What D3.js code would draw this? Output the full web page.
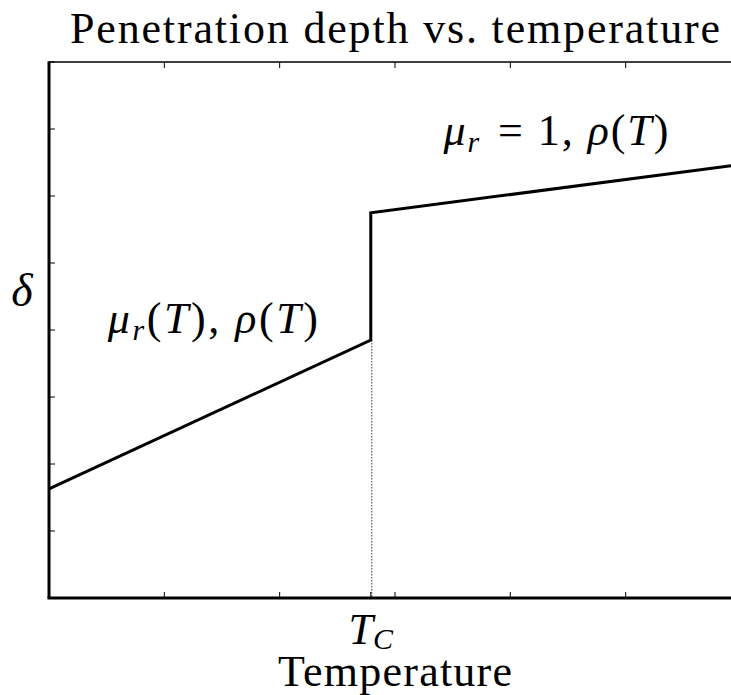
<!DOCTYPE html>
<html>
<head>
<meta charset="utf-8">
<script src="https://cdn.jsdelivr.net/npm/d3@7"></script>
<style>
  html, body { margin: 0; padding: 0; background: #fff; }
  svg { display: block; }
  text { font-family: "Liberation Serif", "DejaVu Serif", serif; fill: #000; }
</style>
</head>
<body>
<svg id="chart"></svg>
<script>
// 曲线数据（温度, 穿透深度）
const curveT = [0, 2.79, 2.79, 6];
const curveDelta = [1.63, 3.85, 5.75, 6.47];
const curieT = 2.79;
const xTicks = [0, 1, 2, 3, 4, 5, 6];
const yTicks = [0, 1, 2, 3, 4, 5, 6, 7, 8];

const width = 731;
const height = 695;
const margin = { left: 49, right: 741, top: 62, bottom: 598 };

const svg = d3.select('#chart')
  .attr('width', width)
  .attr('height', height);

const x = d3.scaleLinear().domain([0, 6]).range([margin.left, margin.right]);
const y = d3.scaleLinear().domain([0, 8]).range([margin.bottom, margin.top]);

// 刻度线（向内）
const tickLen = 6;
const g = svg.append('g');

g.selectAll('line.xb')
  .data(xTicks.concat([curieT]))
  .enter().append('line')
  .attr('x1', d => x(d)).attr('x2', d => x(d))
  .attr('y1', y(0)).attr('y2', y(0) - tickLen)
  .attr('stroke', '#000').attr('stroke-width', 1);

g.selectAll('line.xt')
  .data(xTicks)
  .enter().append('line')
  .attr('x1', d => x(d)).attr('x2', d => x(d))
  .attr('y1', y(8)).attr('y2', y(8) + tickLen)
  .attr('stroke', '#000').attr('stroke-width', 1);

g.selectAll('line.yl')
  .data(yTicks)
  .enter().append('line')
  .attr('x1', x(0)).attr('x2', x(0) + tickLen)
  .attr('y1', d => y(d)).attr('y2', d => y(d))
  .attr('stroke', '#000').attr('stroke-width', 1);

// 虚线（居里温度）
g.append('line')
  .attr('x1', x(curieT) + 1).attr('x2', x(curieT) + 1)
  .attr('y1', y(curveDelta[1])).attr('y2', y(0))
  .attr('stroke', '#000').attr('stroke-width', 0.8)
  .attr('stroke-dasharray', '1.5,1.5');

// 曲线
const line = d3.line()
  .x((d, i) => x(curveT[i]))
  .y(d => y(d));

g.append('path')
  .datum(curveDelta)
  .attr('d', line)
  .attr('fill', 'none')
  .attr('stroke', '#000')
  .attr('stroke-width', 3)
  .attr('stroke-linejoin', 'miter');

// 坐标轴边框
g.append('line')
  .attr('x1', x(0)).attr('x2', x(6))
  .attr('y1', y(8)).attr('y2', y(8))
  .attr('stroke', '#000').attr('stroke-width', 1.5);
g.append('line')
  .attr('x1', x(0) - 1.5).attr('x2', x(6))
  .attr('y1', y(0)).attr('y2', y(0))
  .attr('stroke', '#000').attr('stroke-width', 3);
g.append('line')
  .attr('x1', x(0)).attr('x2', x(0))
  .attr('y1', y(8) - 0.75).attr('y2', y(0))
  .attr('stroke', '#000').attr('stroke-width', 3);

// 文字
const cx = (margin.left + margin.right) / 2;
const fs = 44;

svg.append('text')
  .attr('x', cx).attr('y', 43)
  .attr('text-anchor', 'middle')
  .attr('textLength', 650)
  .attr('lengthAdjust', 'spacing')
  .style('font-size', fs + 'px')
  .text('Penetration depth vs. temperature');

svg.append('text')
  .attr('x', cx).attr('y', 686)
  .attr('text-anchor', 'middle')
  .attr('textLength', 234)
  .attr('lengthAdjust', 'spacing')
  .style('font-size', fs + 'px')
  .text('Temperature');

// T_C 刻度标签
const tc = svg.append('text')
  .attr('x', x(curieT)).attr('y', 644)
  .attr('text-anchor', 'middle')
  .style('font-size', fs + 'px');
tc.append('tspan').style('font-style', 'italic').text('T');
tc.append('tspan').style('font-style', 'italic').style('font-size', '30px').attr('dy', 5).text('C');

// δ
svg.append('text')
  .attr('x', 22).attr('y', 306)
  .attr('text-anchor', 'middle')
  .style('font-size', '46px')
  .style('font-style', 'italic')
  .text('δ');

// 注释
function mathText(px, py, len, parts) {
  const t = svg.append('text')
    .attr('x', px).attr('y', py)
    .attr('textLength', len)
    .attr('lengthAdjust', 'spacing')
    .style('font-size', fs + 'px');
  parts.forEach(p => {
    const s = t.append('tspan').text(p.s);
    if (p.i) s.style('font-style', 'italic');
    if (p.sub) s.style('font-size', '30px').attr('dy', 7);
    if (p.up) s.attr('dy', -7);
    if (p.dx) s.attr('dx', p.dx);
  });
  return t;
}

mathText(x(0.51), y(3.96), 210, [
  { s: 'μ', i: true },
  { s: 'r', i: true, sub: true },
  { s: '(', up: true },
  { s: 'T', i: true },
  { s: '), ' },
  { s: 'ρ', i: true },
  { s: '(' },
  { s: 'T', i: true },
  { s: ')' }
]);

mathText(x(3.42), y(6.76), 225, [
  { s: 'μ', i: true },
  { s: 'r', i: true, sub: true },
  { s: ' = ', up: true, dx: 4 },
  { s: '1, ' },
  { s: 'ρ', i: true },
  { s: '(' },
  { s: 'T', i: true },
  { s: ')' }
]);
</script>
</body>
</html>
